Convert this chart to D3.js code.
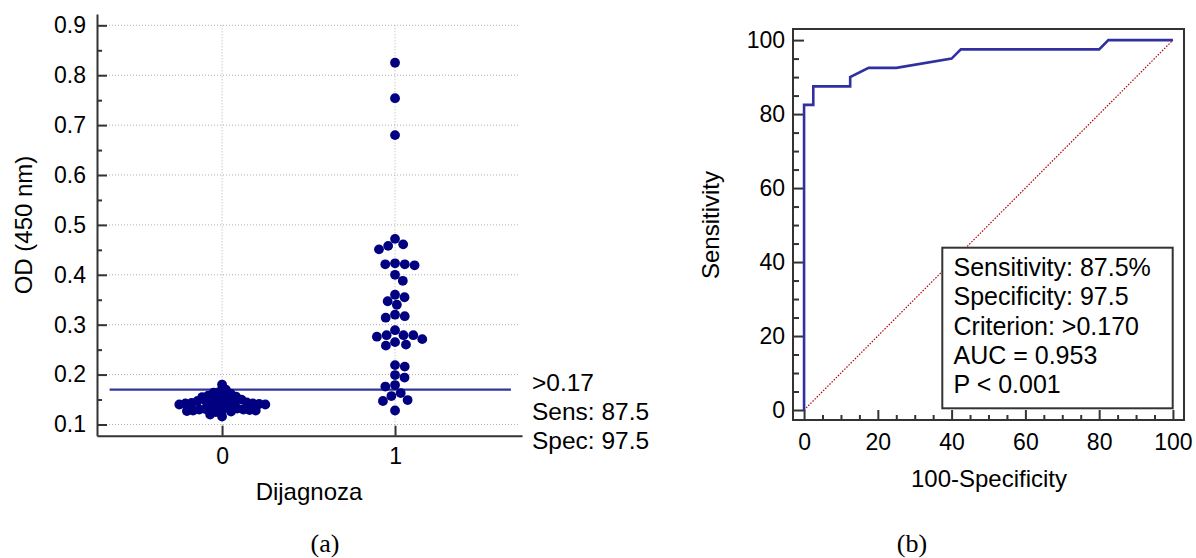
<!DOCTYPE html>
<html><head><meta charset="utf-8">
<script src="https://cdn.jsdelivr.net/npm/d3@7"></script>
<style>
body{margin:0;background:#fff}
svg{display:block}
text{font-family:"Liberation Sans",Arial,sans-serif;fill:#000}
</style>
</head><body>
<svg id="c" width="1196" height="558"></svg>
<script>
// ---------- data ----------
const groupCats = [0, 1];
const groupLabels = ["0", "1"];
const odGroup0 = [0.180, 0.170, 0.166, 0.164, 0.162, 0.158, 0.157, 0.156, 0.155, 0.153,
  0.150, 0.149, 0.148, 0.147, 0.145, 0.144, 0.144, 0.143, 0.143, 0.142,
  0.142, 0.141, 0.140, 0.140, 0.137, 0.136, 0.135, 0.132, 0.131, 0.130,
  0.130, 0.129, 0.129, 0.128, 0.128, 0.127, 0.126, 0.125, 0.120, 0.116];
const odGroup1 = [0.825, 0.754, 0.680, 0.472, 0.461, 0.458, 0.451, 0.423, 0.421, 0.421,
  0.419, 0.400, 0.388, 0.360, 0.355, 0.347, 0.340, 0.320, 0.317, 0.314,
  0.289, 0.279, 0.279, 0.279, 0.276, 0.271, 0.265, 0.260, 0.258, 0.219,
  0.216, 0.199, 0.194, 0.179, 0.176, 0.163, 0.157, 0.149, 0.147, 0.128];
const odTicks = [0.1, 0.2, 0.3, 0.4, 0.5, 0.6, 0.7, 0.8, 0.9];
const odMinorTicks = [0.15, 0.25, 0.35, 0.45, 0.55, 0.65, 0.75, 0.85];
const cutoff = 0.17;
const cutoffLabels = [">0.17", "Sens: 87.5", "Spec: 97.5"];

const rocFPR = [0, 0, 2.5, 2.5, 12.5, 12.5, 17.5, 25, 40, 42.5, 80, 82.5, 100];
const rocTPR = [0, 82.5, 82.5, 87.5, 87.5, 90, 92.5, 92.5, 95, 97.5, 97.5, 100, 100];
const rocTicks = [0, 20, 40, 60, 80, 100];
const rocMinorTicks = [5, 10, 15, 25, 30, 35, 45, 50, 55, 65, 70, 75, 85, 90, 95];
const statsLines = ["Sensitivity: 87.5%", "Specificity: 97.5", "Criterion: >0.170", "AUC = 0.953", "P < 0.001"];

// ---------- styles ----------
const AX = "#333333";
const svg = d3.select("#c");

// ================= Panel (a) =================
const xA = d3.scaleLinear().domain([-0.723, 1.734]).range([97, 522]);
const yA = d3.scaleLinear().domain([0.0775, 0.9227]).range([435.7, 14]);
const gA = svg.append("g");

// grid
gA.append("g").selectAll("line").data(odTicks).join("line")
  .attr("x1", xA.range()[0]).attr("x2", 520)
  .attr("y1", d => yA(d)).attr("y2", d => yA(d))
  .attr("stroke", "#b0b0b0").attr("stroke-width", 1).attr("stroke-dasharray", "1,2");
gA.append("g").selectAll("line").data(groupCats).join("line")
  .attr("x1", d => xA(d)).attr("x2", d => xA(d))
  .attr("y1", yA(0.9)).attr("y2", yA.range()[0])
  .attr("stroke", "#b0b0b0").attr("stroke-width", 1).attr("stroke-dasharray", "1,2");

// axes
const yAxA = gA.append("g").attr("transform", `translate(${xA.range()[0]},0)`)
  .call(d3.axisLeft(yA).tickValues(odTicks).tickSize(-10).tickSizeOuter(0).tickPadding(11).tickFormat(d3.format(".1f")));
yAxA.append("g").call(d3.axisLeft(yA).tickValues(odMinorTicks).tickSize(-5).tickFormat(""))
  .select(".domain").remove();
const xAxA = gA.append("g").attr("transform", `translate(0,${yA.range()[0]})`)
  .call(d3.axisBottom(xA).tickValues(groupCats).tickSize(-10).tickSizeOuter(0).tickPadding(12).tickFormat((d, i) => groupLabels[i]));
[yAxA, xAxA].forEach(g => {
  g.selectAll(".domain").attr("stroke", AX).attr("stroke-width", 2);
  g.selectAll("line").attr("stroke", AX).attr("stroke-width", 2);
  g.selectAll("text").attr("font-size", 23).attr("font-family", "Liberation Sans, Arial, sans-serif").attr("fill", "#000");
});

// cutoff line
gA.append("line")
  .attr("x1", xA(-0.65)).attr("x2", xA(1.67))
  .attr("y1", yA(cutoff)).attr("y2", yA(cutoff))
  .attr("stroke", "#34349a").attr("stroke-width", 2.2);

// beeswarm (collision distance "gap" may be < diameter so dots overlap)
const R = 4.9;
function swarm(values, cat, gap) {
  const pts = values.map(v => ({ v, y: yA(v), x: 0 }));
  const order = pts.slice().sort((a, b) => d3.descending(a.v, b.v));
  const placed = [];
  const d = gap;
  for (const p of order) {
    const cands = [0];
    for (const q of placed) {
      const dy = Math.abs(q.y - p.y);
      if (dy < d) { const dx = Math.sqrt(d * d - dy * dy); cands.push(q.x + dx + 0.01, q.x - dx - 0.01); }
    }
    cands.sort((a, b) => Math.abs(a) - Math.abs(b) || b - a);
    for (const c of cands) {
      if (placed.every(q => (q.x - c) ** 2 + (q.y - p.y) ** 2 >= d * d - 0.1)) { p.x = c; break; }
    }
    placed.push(p);
  }
  pts.forEach(p => p.px = xA(cat) + p.x);
  return pts;
}
const dots = swarm(odGroup0, 0, 6.2).concat(swarm(odGroup1, 1, 2 * R));
gA.append("g").selectAll("circle").data(dots).join("circle")
  .attr("cx", d => d.px).attr("cy", d => d.y).attr("r", R)
  .attr("fill", "#000080");

// labels
gA.append("g").selectAll("text").data(cutoffLabels).join("text")
  .attr("x", 532).attr("y", (d, i) => 390.7 + i * 29.2)
  .attr("font-size", 24.5).text(d => d);
gA.append("text").attr("x", 309).attr("y", 500).attr("text-anchor", "middle")
  .attr("font-size", 24).text("Dijagnoza");
gA.append("text").attr("transform", "translate(32,225) rotate(-90)").attr("text-anchor", "middle")
  .attr("font-size", 24).text("OD (450 nm)");
svg.append("text").attr("x", 325).attr("y", 552).attr("text-anchor", "middle")
  .attr("font-size", 26).style("font-family", "Liberation Serif, Times New Roman, serif").text("(a)");

// ================= Panel (b) =================
const xB = d3.scaleLinear().domain([-3, 103]).range([793, 1184]);
const yB = d3.scaleLinear().domain([-2.7, 103]).range([420, 29]);
const gB = svg.append("g");

// diagonal
gB.append("line")
  .attr("x1", xB(0)).attr("y1", yB(0)).attr("x2", xB(100)).attr("y2", yB(100))
  .attr("stroke", "#b00000").attr("stroke-width", 1.2).attr("stroke-dasharray", "1.5,1.5");

// axes
const yAxB = gB.append("g").attr("transform", `translate(${xB.range()[0]},0)`)
  .call(d3.axisLeft(yB).tickValues(rocTicks).tickSize(-11).tickPadding(8));
yAxB.append("g").call(d3.axisLeft(yB).tickValues(rocMinorTicks).tickSize(-6).tickFormat(""));
const xAxB = gB.append("g").attr("transform", `translate(0,${yB.range()[0]})`)
  .call(d3.axisBottom(xB).tickValues(rocTicks).tickSize(-10).tickPadding(14));
xAxB.append("g").call(d3.axisBottom(xB).tickValues(rocMinorTicks).tickSize(-5).tickFormat(""));
[yAxB, xAxB].forEach(g => {
  g.selectAll(".domain").remove();
  g.selectAll("line").attr("stroke", AX).attr("stroke-width", 2);
  g.selectAll("text").attr("font-size", 23).attr("font-family", "Liberation Sans, Arial, sans-serif").attr("fill", "#000");
});

// frame
gB.append("rect")
  .attr("x", xB.range()[0]).attr("y", yB.range()[1])
  .attr("width", xB.range()[1] - xB.range()[0]).attr("height", yB.range()[0] - yB.range()[1])
  .attr("fill", "none").attr("stroke", AX).attr("stroke-width", 2);

// ROC curve
const rocPts = rocFPR.map((f, i) => [f, rocTPR[i]]);
gB.append("path").datum(rocPts)
  .attr("d", d3.line().x(d => xB(d[0])).y(d => yB(d[1])))
  .attr("fill", "none").attr("stroke", "#3030a0").attr("stroke-width", 2.6)
  .attr("stroke-linejoin", "miter");

// stats box
gB.append("rect").attr("x", 942.3).attr("y", 247.7).attr("width", 230.4).attr("height", 160.6)
  .attr("fill", "#fff").attr("stroke", AX).attr("stroke-width", 2);
gB.append("g").selectAll("text").data(statsLines).join("text")
  .attr("x", 953.5).attr("y", (d, i) => 276 + i * 29.3)
  .attr("font-size", 25).text(d => d);

// titles
gB.append("text").attr("x", 989).attr("y", 487).attr("text-anchor", "middle")
  .attr("font-size", 24).text("100-Specificity");
gB.append("text").attr("transform", "translate(719,225) rotate(-90)").attr("text-anchor", "middle")
  .attr("font-size", 24).text("Sensitivity");
svg.append("text").attr("x", 912).attr("y", 552).attr("text-anchor", "middle")
  .attr("font-size", 26).style("font-family", "Liberation Serif, Times New Roman, serif").text("(b)");
</script>
</body></html>
